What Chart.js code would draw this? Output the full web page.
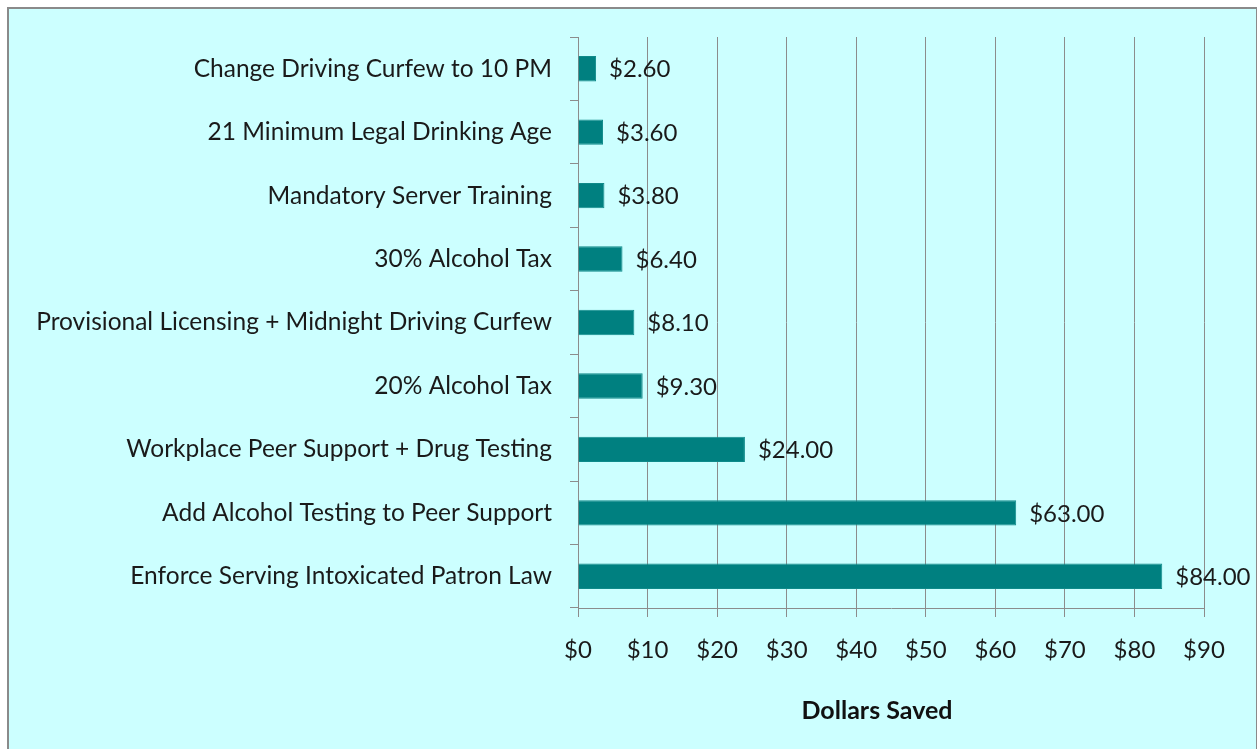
<!DOCTYPE html>
<html>
<head>
<meta charset="utf-8">
<script src="https://cdn.jsdelivr.net/npm/chart.js@4"></script>
<style>
html,body{margin:0;padding:0;background:#fff;}
#frame{position:absolute;left:7px;top:7px;width:1247px;height:760px;border:2px solid #8a8a8a;background:#ccffff;}
#wrap{position:absolute;left:0;top:0;width:1257px;height:749px;}
</style>
</head>
<body>
<div id="frame"></div>
<div id="wrap"><canvas id="c" width="1257" height="749"></canvas></div>
<script>
const categories = [
  "Change Driving Curfew to 10 PM",
  "21 Minimum Legal Drinking Age",
  "Mandatory Server Training",
  "30% Alcohol Tax",
  "Provisional Licensing + Midnight Driving Curfew",
  "20% Alcohol Tax",
  "Workplace Peer Support + Drug Testing",
  "Add Alcohol Testing to Peer Support",
  "Enforce Serving Intoxicated Patron Law"
];
const dollarsSaved = [2.6, 3.6, 3.8, 6.4, 8.1, 9.3, 24, 63, 84];
const xTickMin = 0, xTickMax = 90, xTickStep = 10;
const axisTitle = "Dollars Saved";

const FONT = "Lato, 'Liberation Sans', sans-serif";

const labelPlugin = {
  id: 'barLabels',
  afterDatasetsDraw(chart) {
    const ctx = chart.ctx;
    const meta = chart.getDatasetMeta(0);
    ctx.save();
    ctx.font = "24px " + FONT;
    ctx.fillStyle = "#1a1a1a";
    ctx.textBaseline = "middle";
    ctx.textAlign = "left";
    meta.data.forEach((bar, i) => {
      ctx.fillText("$" + dollarsSaved[i].toFixed(2), bar.x + 13, bar.y + 1);
    });
    // axis title
    ctx.font = "bold 25px " + FONT;
    ctx.textAlign = "center";
    ctx.fillStyle = "#111";
    ctx.fillText(axisTitle, 877, 711);
    ctx.restore();
  }
};

new Chart(document.getElementById('c'), {
  type: 'bar',
  data: {
    labels: categories,
    datasets: [{
      data: dollarsSaved,
      backgroundColor: '#008080',
      borderColor: '#0f8a8a',
      borderWidth: 1,
      barPercentage: 0.4,
      categoryPercentage: 1.0
    }]
  },
  plugins: [labelPlugin],
  options: {
    indexAxis: 'y',
    responsive: false,
    animation: false,
    devicePixelRatio: 1,
    layout: { padding: { top: 37, right: 53, left: 0, bottom: 0 } },
    plugins: { legend: { display: false }, tooltip: { enabled: false } },
    scales: {
      x: {
        min: xTickMin, max: xTickMax,
        afterFit(s) { s.height = 141; },
        ticks: {
          stepSize: xTickStep,
          callback: v => '$' + v,
          font: { family: FONT, size: 24 },
          color: '#1a1a1a',
          padding: 19
        },
        grid: { color: '#8c8c8c', lineWidth: 1, tickLength: 9 },
        border: { color: '#8c8c8c', width: 1 }
      },
      y: {
        afterFit(s) { s.width = 578; },
        offset: true,
        ticks: {
          font: { family: FONT, size: 24.5 },
          color: '#1a1a1a',
          padding: 18
        },
        grid: { offset: true, drawOnChartArea: false, drawTicks: true, tickLength: 8, color: '#8c8c8c' },
        border: { color: '#8c8c8c', width: 1 }
      }
    }
  }
});
</script>
</body>
</html>
